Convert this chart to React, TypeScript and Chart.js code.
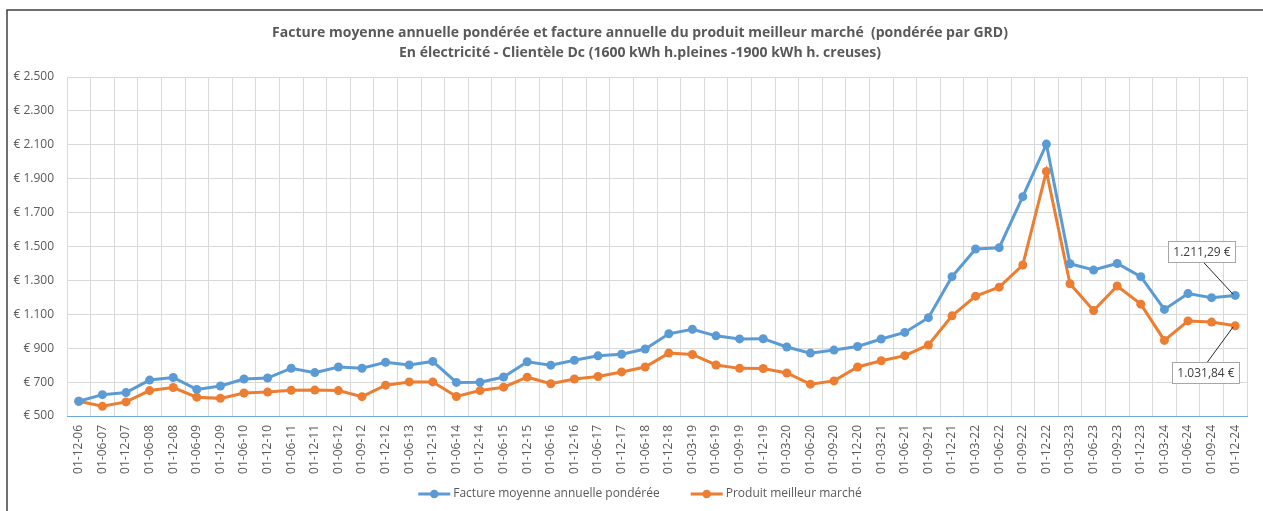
import React, { useEffect, useRef } from "react";
import { Chart, registerables } from "chart.js";

Chart.register(...registerables);

const titleLines = [
  "Facture moyenne annuelle pondérée et facture annuelle du produit meilleur marché  (pondérée par GRD)",
  "En électricité - Clientèle Dc (1600 kWh h.pleines -1900 kWh h. creuses)",
];

const seriesNames = ["Facture moyenne annuelle pondérée", "Produit meilleur marché"];

const categories = [
  "01-12-06", "01-06-07", "01-12-07", "01-06-08", "01-12-08", "01-06-09", "01-12-09", "01-06-10",
  "01-12-10", "01-06-11", "01-12-11", "01-06-12", "01-09-12", "01-12-12", "01-06-13", "01-12-13",
  "01-06-14", "01-12-14", "01-06-15", "01-12-15", "01-06-16", "01-12-16", "01-06-17", "01-12-17",
  "01-06-18", "01-12-18", "01-03-19", "01-06-19", "01-09-19", "01-12-19", "01-03-20", "01-06-20",
  "01-09-20", "01-12-20", "01-03-21", "01-06-21", "01-09-21", "01-12-21", "01-03-22", "01-06-22",
  "01-09-22", "01-12-22", "01-03-23", "01-06-23", "01-09-23", "01-12-23", "01-03-24", "01-06-24",
  "01-09-24", "01-12-24",
];

const factureMoyenne = [
  587, 626, 638, 712, 727, 657, 677, 718, 724, 782,
  756, 789, 782, 817, 801, 822, 698, 699, 730, 820,
  800, 829, 855, 864, 895, 985, 1012, 973, 955, 956,
  907, 871, 889, 910, 954, 993, 1080, 1322, 1485, 1493,
  1794, 2104, 1398, 1361, 1400, 1322, 1129, 1222, 1198, 1211.29,
];

const produitMeilleurMarche = [
  587, 557, 583, 650, 668, 611, 604, 636, 641, 652,
  653, 650, 614, 682, 701, 701, 615, 650, 670, 729,
  690, 718, 733, 760, 789, 871, 863, 801, 781, 780,
  754, 688, 707, 789, 826, 856, 919, 1091, 1207, 1260,
  1391, 1943, 1280, 1122, 1267, 1160, 946, 1061, 1054, 1031.84,
];

const yMin = 500;
const yMax = 2500;
const yStep = 200;

const BLUE = "#5b9bd5";
const ORANGE = "#ed7d31";
const TEXT = "#595959";
const FONT = "'Open Sans'";

function thousands(intPart: string): string {
  return intPart.replace(/\B(?=(\d{3})+(?!\d))/g, ".");
}

function formatEuroTick(v: number): string {
  return "€ " + thousands(String(Math.round(v)));
}

function formatEuroValue(v: number): string {
  const [i, d] = v.toFixed(2).split(".");
  return thousands(i) + "," + d + " €";
}

const framePlugin = {
  id: "frame",
  afterDraw(chart: any) {
    const ctx = chart.ctx;
    ctx.save();
    ctx.strokeStyle = "#404040";
    ctx.lineWidth = 1.5;
    ctx.beginPath();
    ctx.moveTo(7, chart.height);
    ctx.lineTo(7, 10);
    ctx.lineTo(chart.width, 10);
    ctx.stroke();
    ctx.restore();
  },
};

const headerLegendPlugin = {
  id: "headerLegend",
  afterDraw(chart: any) {
    const ctx = chart.ctx;
    const cxCenter = 640;
    ctx.save();
    ctx.fillStyle = TEXT;
    ctx.textAlign = "center";
    ctx.textBaseline = "middle";
    ctx.font = `bold 14px ${FONT}`;
    titleLines.forEach((line, i) => ctx.fillText(line, cxCenter, 33 + i * 20));
    ctx.font = `12px ${FONT}`;
    const lineLen = 32;
    const gap = 3;
    const spacing = 31;
    const colors = [BLUE, ORANGE];
    const widths = seriesNames.map((n) => lineLen + gap + ctx.measureText(n).width);
    const total = widths.reduce((a, b) => a + b, 0) + spacing * (widths.length - 1);
    let x = cxCenter - total / 2;
    const y = 494;
    seriesNames.forEach((name, i) => {
      ctx.strokeStyle = colors[i];
      ctx.lineWidth = 3;
      ctx.beginPath();
      ctx.moveTo(x, y);
      ctx.lineTo(x + lineLen, y);
      ctx.stroke();
      ctx.fillStyle = colors[i];
      ctx.beginPath();
      ctx.arc(x + lineLen / 2, y, 4.3, 0, Math.PI * 2);
      ctx.fill();
      ctx.fillStyle = TEXT;
      ctx.textAlign = "left";
      ctx.fillText(name, x + lineLen + gap, y);
      x += widths[i] + spacing;
    });
    ctx.restore();
  },
};

const callouts = [
  { dataset: 0, dx: -34, dy: -44 },
  { dataset: 1, dx: -30, dy: 47 },
];

const calloutPlugin = {
  id: "callouts",
  afterDatasetsDraw(chart: any) {
    const ctx = chart.ctx;
    ctx.save();
    ctx.font = `12px ${FONT}`;
    for (const c of callouts) {
      const meta = chart.getDatasetMeta(c.dataset);
      const last = meta.data.length - 1;
      const pt = meta.data[last];
      const value = chart.data.datasets[c.dataset].data[last] as number;
      const text = formatEuroValue(value);
      const w = Math.round(ctx.measureText(text).width + 10);
      const h = 21;
      const cx = pt.x + c.dx;
      const cy = pt.y + c.dy;
      ctx.strokeStyle = "#262626";
      ctx.lineWidth = 1;
      ctx.beginPath();
      ctx.moveTo(cx + 2, c.dy < 0 ? cy + h / 2 : cy - h / 2);
      ctx.lineTo(pt.x - 2, pt.y + (c.dy < 0 ? -1 : 1));
      ctx.stroke();
      const bx = Math.round(cx - w / 2) + 0.5;
      const by = Math.round(cy - h / 2) + 0.5;
      ctx.fillStyle = "#ffffff";
      ctx.fillRect(bx, by, w, h);
      ctx.strokeStyle = "#a6a6a6";
      ctx.strokeRect(bx, by, w, h);
      ctx.fillStyle = "#404040";
      ctx.textAlign = "center";
      ctx.textBaseline = "middle";
      ctx.fillText(text, bx + w / 2, by + h / 2 + 0.5);
    }
    ctx.restore();
  },
};

export default function App() {
  const canvasRef = useRef<HTMLCanvasElement | null>(null);

  useEffect(() => {
    if (!canvasRef.current) return;
    Chart.defaults.font.family = FONT;
    const chart = new Chart(canvasRef.current, {
      type: "line",
      data: {
        labels: categories,
        datasets: [
          {
            label: seriesNames[0],
            data: factureMoyenne,
            borderColor: BLUE,
            backgroundColor: BLUE,
            pointBackgroundColor: BLUE,
            pointBorderColor: BLUE,
            borderWidth: 3,
            pointRadius: 4.5,
            pointBorderWidth: 0,
            tension: 0,
          },
          {
            label: seriesNames[1],
            data: produitMeilleurMarche,
            borderColor: ORANGE,
            backgroundColor: ORANGE,
            pointBackgroundColor: ORANGE,
            pointBorderColor: ORANGE,
            borderWidth: 3,
            pointRadius: 4.5,
            pointBorderWidth: 0,
            tension: 0,
          },
        ],
      },
      options: {
        responsive: false,
        animation: false,
        layout: { padding: { top: 77, left: 7, right: 16, bottom: 33 } },
        plugins: {
          title: { display: false },
          legend: { display: false },
          tooltip: { enabled: false },
        },
        scales: {
          x: {
            type: "category",
            offset: true,
            grid: { display: true, offset: true, color: "#d9d9d9", drawTicks: false },
            border: { display: true, color: "#6fa8dc", width: 1 },
            ticks: {
              autoSkip: false,
              maxRotation: 90,
              minRotation: 90,
              padding: 9,
              color: TEXT,
              font: { family: FONT, size: 12 },
            },
            afterFit: (s: any) => {
              s.height = 62;
            },
          },
          y: {
            min: yMin,
            max: yMax,
            grid: { color: "#d9d9d9", drawTicks: false },
            border: { display: false },
            ticks: {
              stepSize: yStep,
              padding: 13,
              color: TEXT,
              font: { family: FONT, size: 12 },
              callback: (v: any) => formatEuroTick(Number(v)),
            },
            afterFit: (s: any) => {
              s.width = 60;
            },
          },
        },
      },
      plugins: [framePlugin, calloutPlugin, headerLegendPlugin],
    } as any);
    return () => chart.destroy();
  }, []);

  return (
    <div style={{ position: "absolute", left: 0, top: 0, width: 1263, height: 511, background: "#fff" }}>
      <canvas ref={canvasRef} width={1263} height={511} style={{ display: "block" }} />
    </div>
  );
}
